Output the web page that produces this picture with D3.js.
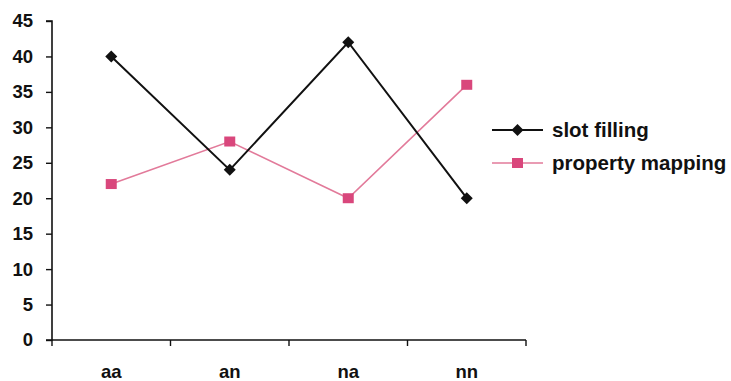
<!DOCTYPE html>
<html>
<head>
<meta charset="utf-8">
<script src="https://cdn.jsdelivr.net/npm/d3@7"></script>
<style>
  html, body { margin: 0; padding: 0; background: #fff; }
  svg { display: block; font-family: "Liberation Sans", Arial, sans-serif; font-weight: bold; }
</style>
</head>
<body>
<svg id="chart" width="731" height="381"></svg>
<script>
// Categories and series values
const categories = ["aa", "an", "na", "nn"];
const slotFilling = [40, 24, 42, 20];
const propertyMapping = [22, 28, 20, 36];
const yTicks = [0, 5, 10, 15, 20, 25, 30, 35, 40, 45];
const seriesNames = ["slot filling", "property mapping"];

const svg = d3.select("#chart");
const margin = { left: 52, top: 21, right: 526, bottom: 340 };

const x = d3.scaleBand().domain(categories).range([margin.left, margin.right]);
const y = d3.scaleLinear().domain([0, 45]).range([margin.bottom, margin.top]);

// Y axis
const yAxis = svg.append("g")
  .attr("transform", `translate(${margin.left},0)`)
  .call(d3.axisLeft(y).tickValues(yTicks).tickSize(6).tickPadding(13));
yAxis.select(".domain").attr("stroke", "#111").attr("stroke-width", 1.6).attr("d", `M-6,${y(45)}H0V${y(0)}H-6`);
yAxis.selectAll(".tick line").attr("stroke", "#111").attr("stroke-width", 1.4);
yAxis.selectAll(".tick text").attr("font-size", 18.5).attr("font-weight", "bold").attr("fill", "#111")
  .attr("font-family", "Liberation Sans, Arial, sans-serif");

// X axis with ticks between categories
const xAxisG = svg.append("g").attr("transform", `translate(0,${margin.bottom})`);
xAxisG.append("line")
  .attr("x1", margin.left).attr("x2", margin.right)
  .attr("stroke", "#111").attr("stroke-width", 1.6);
const bounds = categories.map(c => x(c)).concat([margin.right]);
xAxisG.selectAll(".xtick").data(bounds).enter().append("line")
  .attr("x1", d => d).attr("x2", d => d)
  .attr("y1", 0).attr("y2", 6)
  .attr("stroke", "#111").attr("stroke-width", 1.4);
xAxisG.selectAll(".xlabel").data(categories).enter().append("text")
  .attr("x", d => x(d) + x.bandwidth() / 2)
  .attr("y", 38)
  .attr("text-anchor", "middle")
  .attr("font-size", 18.5)
  .attr("fill", "#111")
  .text(d => d);

const cx = d => x(d) + x.bandwidth() / 2;
const line = d3.line().x((d, i) => cx(categories[i])).y(d => y(d));

// diamond marker path, 12px across
const diamondPath = "M0,-6L6,0L0,6L-6,0Z";

// property mapping series
const pink = "#d9477c";
svg.append("path").datum(propertyMapping)
  .attr("d", line).attr("fill", "none")
  .attr("stroke", "#e27a9a").attr("stroke-width", 1.6);
svg.selectAll(".pm").data(propertyMapping).enter().append("rect")
  .attr("x", (d, i) => cx(categories[i]) - 5.5)
  .attr("y", d => y(d) - 5)
  .attr("width", 11).attr("height", 10)
  .attr("fill", pink);

// slot filling series
svg.append("path").datum(slotFilling)
  .attr("d", line).attr("fill", "none")
  .attr("stroke", "#111").attr("stroke-width", 2);
svg.selectAll(".sf").data(slotFilling).enter().append("path")
  .attr("d", diamondPath)
  .attr("transform", (d, i) => `translate(${cx(categories[i])},${y(d)})`)
  .attr("fill", "#111");

// Legend
const legend = svg.append("g");
const ly = [130, 163];
legend.append("line").attr("x1", 492).attr("x2", 543).attr("y1", ly[0]).attr("y2", ly[0])
  .attr("stroke", "#111").attr("stroke-width", 2);
legend.append("path").attr("d", diamondPath).attr("transform", `translate(517.5,${ly[0]})`).attr("fill", "#111");
legend.append("line").attr("x1", 492).attr("x2", 543).attr("y1", ly[1]).attr("y2", ly[1])
  .attr("stroke", "#e27a9a").attr("stroke-width", 1.6);
legend.append("rect").attr("x", 512).attr("y", ly[1] - 5).attr("width", 11).attr("height", 10).attr("fill", pink);
legend.selectAll(".lt").data(seriesNames).enter().append("text")
  .attr("x", 552).attr("y", (d, i) => ly[i] + 7)
  .attr("font-size", 20.5).attr("fill", "#111")
  .text(d => d);
</script>
</body>
</html>
